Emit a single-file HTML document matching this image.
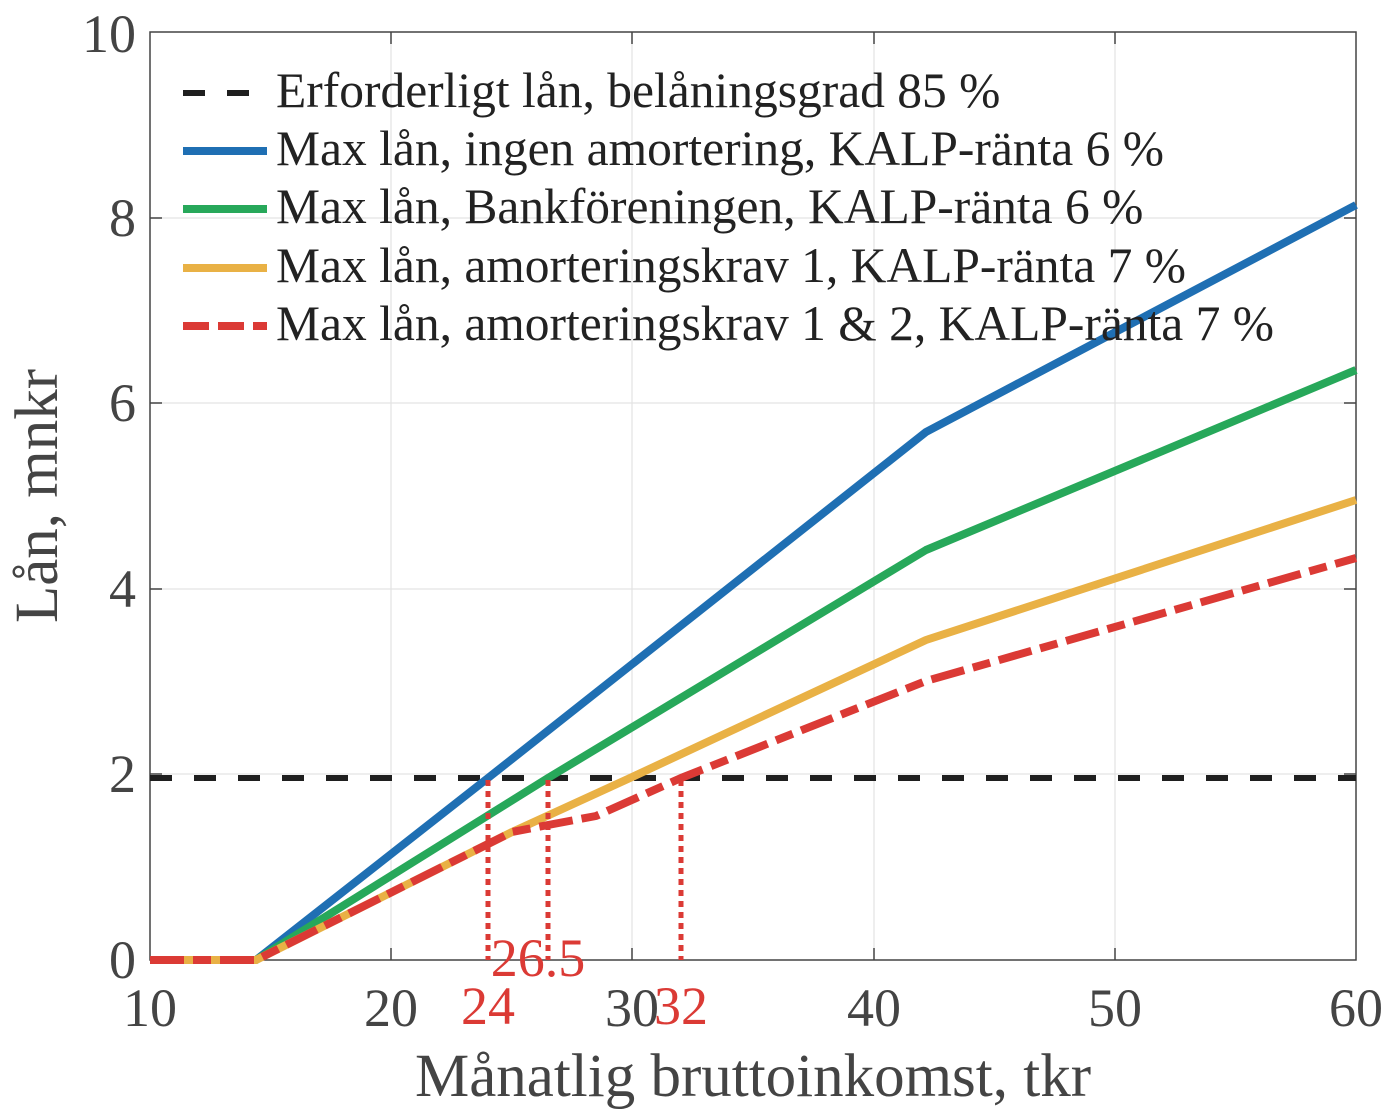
<!DOCTYPE html>
<html><head><meta charset="utf-8"><style>
html,body{margin:0;padding:0;background:#fff;width:1384px;height:1112px;overflow:hidden}
svg{display:block}
text{font-family:"Liberation Serif",serif}
</style></head><body>
<svg width="1384" height="1112" viewBox="0 0 1384 1112">
<g stroke="#e3e3e3" stroke-width="1.2">
<line x1="391" y1="32" x2="391" y2="960"/><line x1="632" y1="32" x2="632" y2="960"/><line x1="874" y1="32" x2="874" y2="960"/><line x1="1115" y1="32" x2="1115" y2="960"/>
<line x1="150" y1="218" x2="1356" y2="218"/><line x1="150" y1="403" x2="1356" y2="403"/><line x1="150" y1="589" x2="1356" y2="589"/><line x1="150" y1="774" x2="1356" y2="774"/>
</g>
<rect x="150" y="32" width="1206" height="928" fill="none" stroke="#444" stroke-width="1.5"/>
<g stroke="#444" stroke-width="1.5">
<line x1="391" y1="960" x2="391" y2="948"/><line x1="632" y1="960" x2="632" y2="948"/><line x1="874" y1="960" x2="874" y2="948"/><line x1="1115" y1="960" x2="1115" y2="948"/>
<line x1="391" y1="32" x2="391" y2="44"/><line x1="632" y1="32" x2="632" y2="44"/><line x1="874" y1="32" x2="874" y2="44"/><line x1="1115" y1="32" x2="1115" y2="44"/>
<line x1="150" y1="218" x2="162" y2="218"/><line x1="150" y1="403" x2="162" y2="403"/><line x1="150" y1="589" x2="162" y2="589"/><line x1="150" y1="774" x2="162" y2="774"/>
<line x1="1356" y1="218" x2="1344" y2="218"/><line x1="1356" y1="403" x2="1344" y2="403"/><line x1="1356" y1="589" x2="1344" y2="589"/><line x1="1356" y1="774" x2="1344" y2="774"/>
</g>
<line x1="150" y1="778" x2="1356" y2="778" stroke="#1f1f1f" stroke-width="6" stroke-dasharray="22,22"/>
<g fill="none" stroke-width="8" stroke-linejoin="round">
<polyline stroke="#1f6fb3" points="150,960 256,960 488,778 926,432 1356,205"/>
<polyline stroke="#27a85a" points="150,960 256,960 548,778 926,550 1356,370"/>
<polyline stroke="#e9b145" points="150,960 256,960 512,832 630,778 926,640 1356,500"/>
<polyline stroke="#db3a35" stroke-dasharray="34,9,18,9" points="150,960 256,960 512,832 548,825 596,816 681,778 926,681 1356,558"/>
</g>
<g stroke="#db3a35" stroke-width="5" stroke-dasharray="6,5">
<line x1="488" y1="780" x2="488" y2="960"/><line x1="548" y1="780" x2="548" y2="960"/><line x1="681" y1="780" x2="681" y2="960"/>
</g>
<g font-size="54" fill="#444" text-anchor="end">
<text x="136" y="52">10</text><text x="136" y="236">8</text><text x="136" y="421">6</text><text x="136" y="607">4</text><text x="136" y="792">2</text><text x="136" y="978">0</text>
</g>
<g font-size="54" fill="#444" text-anchor="middle">
<text x="150" y="1026">10</text><text x="391" y="1026">20</text><text x="632" y="1026">30</text><text x="874" y="1026">40</text><text x="1115" y="1026">50</text><text x="1356" y="1026">60</text>
</g>
<g font-size="54" fill="#db3a35" text-anchor="middle">
<text x="488" y="1024">24</text><text x="538" y="976">26.5</text><text x="681" y="1024">32</text>
</g>
<text x="753" y="1096" font-size="61" fill="#444" text-anchor="middle">Månatlig bruttoinkomst, tkr</text>
<text transform="translate(57,496) rotate(-90)" font-size="61" fill="#444" text-anchor="middle">Lån, mnkr</text>
<g stroke-width="8">
<line x1="183" y1="93" x2="267" y2="93" stroke="#1f1f1f" stroke-width="6" stroke-dasharray="22,22"/>
<line x1="183" y1="151" x2="267" y2="151" stroke="#1f6fb3"/>
<line x1="183" y1="209" x2="267" y2="209" stroke="#27a85a"/>
<line x1="183" y1="268" x2="267" y2="268" stroke="#e9b145"/>
<line x1="183" y1="326" x2="267" y2="326" stroke="#db3a35" stroke-dasharray="26,9"/>
</g>
<g font-size="49.5" fill="#222">
<text x="276" y="107">Erforderligt lån, belåningsgrad 85 %</text>
<text x="276" y="165">Max lån, ingen amortering, KALP-ränta 6 %</text>
<text x="276" y="223">Max lån, Bankföreningen, KALP-ränta 6 %</text>
<text x="276" y="282">Max lån, amorteringskrav 1, KALP-ränta 7 %</text>
<text x="276" y="340">Max lån, amorteringskrav 1 &amp; 2, KALP-ränta 7 %</text>
</g>
</svg>
</body></html>
